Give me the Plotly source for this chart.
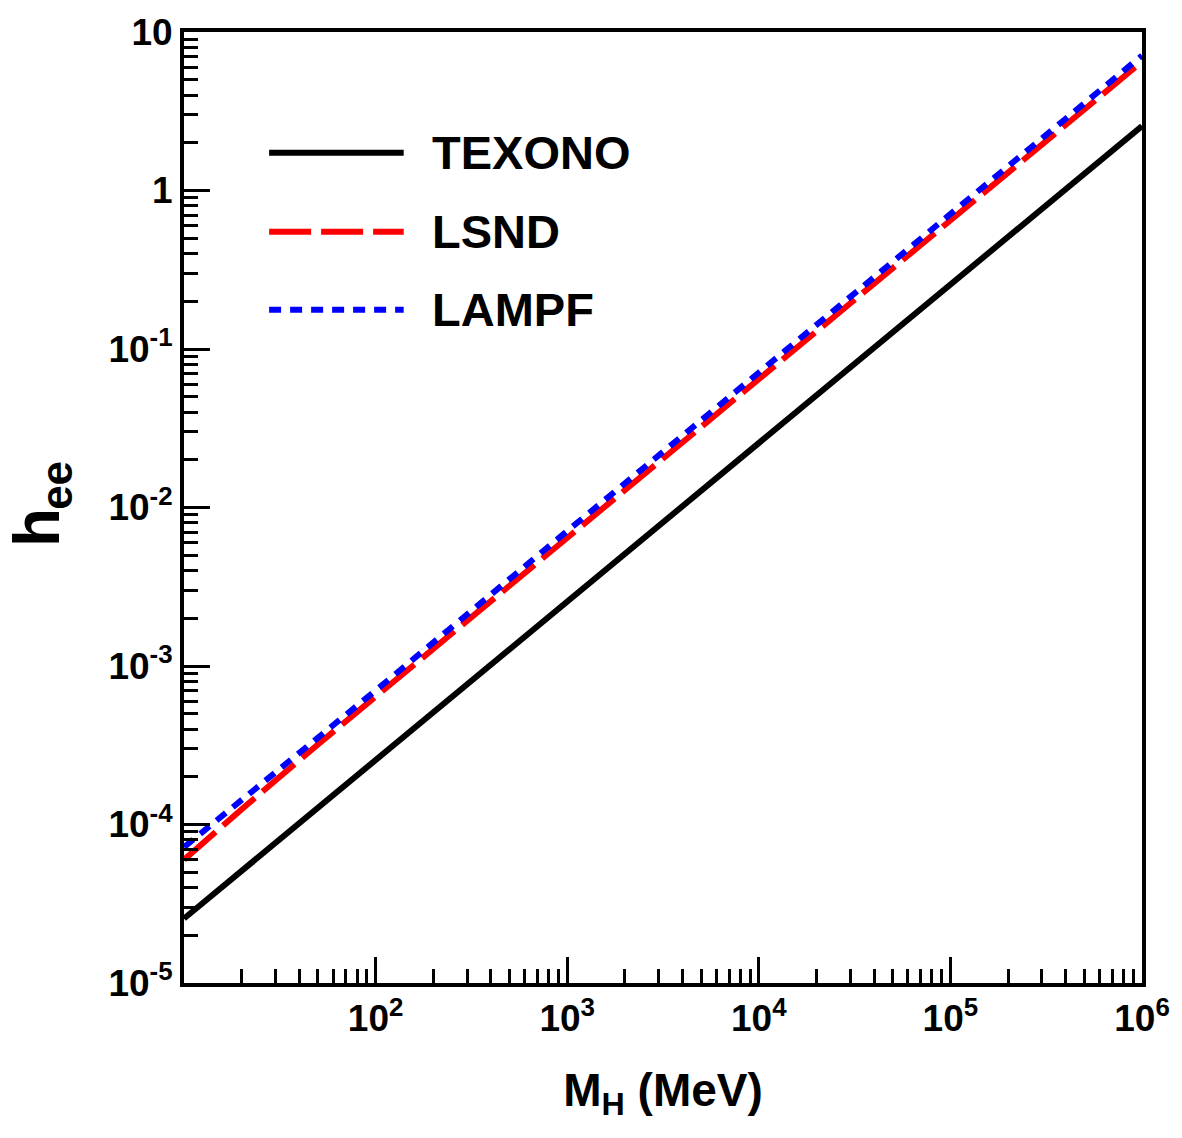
import plotly.graph_objects as go

# Data
mass_mev = [10, 20, 50, 100, 1e3, 1e4, 1e5, 1e6]
texono = [2.55e-5, 5.1e-5, 1.28e-4, 2.55e-4, 2.55e-3, 2.55e-2, 0.255, 2.55]
lsnd = [6.0e-5, 1.25e-4, 3.2e-4, 6.4e-4, 6.5e-3, 6.5e-2, 0.65, 6.5]
lampf = [7.2e-5, 1.42e-4, 3.55e-4, 7.0e-4, 7.1e-3, 7.1e-2, 0.71, 7.1]

series_names = ["TEXONO", "LSND", "LAMPF"]
series_values = [texono, lsnd, lampf]
series_colors = ["#000000", "#ff0000", "#0000ff"]
series_dash = ["solid", "42px,10px", "12px,9px"]

x_tickvals = [1e2, 1e3, 1e4, 1e5, 1e6]
x_ticktext = ["10<sup>2</sup>", "10<sup>3</sup>", "10<sup>4</sup>", "10<sup>5</sup>", "10<sup>6</sup>"]
y_tickvals = [1e-5, 1e-4, 1e-3, 1e-2, 1e-1, 1, 10]
y_ticktext = ["10<sup>-5</sup>", "10<sup>-4</sup>", "10<sup>-3</sup>", "10<sup>-2</sup>",
              "10<sup>-1</sup>", "1", "10"]

W, H = 1182, 1138
L, R, T, B = 184, 30, 31, 155
FONT = "Liberation Sans, Arial, Helvetica, sans-serif"
NARROW = "Liberation Sans Narrow, Liberation Sans, Arial, sans-serif"

fig = go.Figure()
for name, vals, col, dash in zip(series_names, series_values, series_colors, series_dash):
    fig.add_trace(go.Scatter(x=mass_mev, y=vals, mode="lines", name=name,
                             line=dict(color=col, width=6, dash=dash),
                             showlegend=False))

pw = W - L - R
ph = H - T - B
def px_x(p):
    return (p - L) / pw
def px_y(p):
    return (H - B - p) / ph

# Manual legend
legend_y = [152, 231, 309]
for name, col, dash, yy in zip(series_names, series_colors, series_dash, legend_y):
    fig.add_shape(type="line", xref="paper", yref="paper",
                  x0=px_x(270), x1=px_x(406), y0=px_y(yy), y1=px_y(yy),
                  line=dict(color=col, width=6, dash=dash))
    fig.add_annotation(xref="paper", yref="paper", x=px_x(433), y=px_y(yy),
                       text=name, showarrow=False, xanchor="left", yanchor="middle",
                       font=dict(family=FONT, size=47, color="black", weight="bold"))

# y-axis title "h_ee" (large, condensed subscript as in the reference)
fig.add_annotation(xref="paper", yref="paper", x=px_x(36), y=px_y(527),
                   text="h", showarrow=False, textangle=-90,
                   xanchor="center", yanchor="middle",
                   font=dict(family=NARROW, size=64, color="black", weight="bold"))
fig.add_annotation(xref="paper", yref="paper", x=px_x(55), y=px_y(485),
                   text="ee", showarrow=False, textangle=-90,
                   xanchor="center", yanchor="middle",
                   font=dict(family=NARROW, size=44, color="black", weight="bold"))

axis_common = dict(
    type="log", showgrid=False, zeroline=False,
    showline=True, linecolor="black", linewidth=4, mirror=True,
    ticks="inside", ticklen=26, tickwidth=3, tickcolor="black",
    minor=dict(ticks="inside", ticklen=14, tickwidth=3, tickcolor="black",
               dtick="D1", showgrid=False),
    tickfont=dict(family=FONT, size=37, color="black", weight="bold"),
)

fig.update_xaxes(**axis_common, range=[1, 6], tickmode="array",
                 tickvals=x_tickvals, ticktext=x_ticktext,
                 title=dict(text="M<sub>H</sub> (MeV)", standoff=36,
                            font=dict(family=FONT, size=46, color="black", weight="bold")))
fig.update_yaxes(**axis_common, range=[-5, 1], tickmode="array",
                 tickvals=y_tickvals, ticktext=y_ticktext)

fig.update_layout(width=W, height=H, margin=dict(l=L, r=R, t=T, b=B),
                  plot_bgcolor="white", paper_bgcolor="white",
                  font=dict(family=FONT, color="black"))

fig.write_html("out.html")
